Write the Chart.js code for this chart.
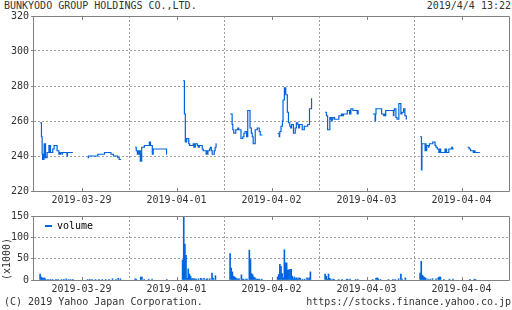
<!DOCTYPE html>
<html><head><meta charset="utf-8">
<script src="https://cdn.jsdelivr.net/npm/chart.js@4.4.0/dist/chart.umd.min.js"></script>
<style>
html,body{margin:0;padding:0;background:#fff;}
body{width:512px;height:310px;position:relative;overflow:hidden;font-family:"DejaVu Sans Mono",monospace;font-size:10px;color:#333;}
.t{position:absolute;white-space:pre;line-height:12px;}
canvas{position:absolute;left:0;}
</style></head><body>
<div class="t" style="left:4px;top:0px">BUNKYODO GROUP HOLDINGS CO.,LTD.</div>
<div class="t" style="right:1px;top:0px">2019/4/4 13:22</div>
<canvas id="c1" width="512" height="210" style="top:0px"></canvas>
<canvas id="c2" width="512" height="90" style="top:205px"></canvas>
<div class="t" style="left:4px;top:296px">(C) 2019 Yahoo Japan Corporation.</div>
<div class="t" style="right:1px;top:296px">https://stocks.finance.yahoo.co.jp</div>
<script>
// ---- categories / ticks ----
const days = ['2019-03-29','2019-04-01','2019-04-02','2019-04-03','2019-04-04'];
const priceTicks = [220,240,260,280,300,320];
const volTicks = [0,50,100,150];

// ---- price change points: minutes after 9:00 (lunch 150-210, close 360) ----
const pt0329 = [0,6,9,11,13,15,17,18,21,22,24,31,39,41,43,46,56,62,75,83,85,88,90,97,99,119,121,145, 180, 210,214,255,285,313,324,343,350,358];
const pp0329 = [259,251,241,238,241,238,241,247,239,247,239,242,246,242,246,242,244,246,243,241,242,241,242,241,242,240,242,242, null, 239,240,241,242,241,240,239,238,238];
const pt0401 = [0,5,10,14,19,21,23,25,27,29,41,63,65,66,68,76,78,79,80,139,140, 180, 212,218,222,224,225,226,227,228,237,241,257,260,262,264,266,275,279,284,297,301,314,316,318,322,329,333,337,341,350,354,358,360];
const pp0401 = [245,243,241,243,241,243,237,241,237,245,246,248,246,248,246,241,244,241,244,241,241, null, 283,264,248,250,248,250,248,250,247,246,247,245,247,245,247,246,245,246,244,243,241,243,241,243,244,245,243,241,243,245,247,247];
const pt0402 = [0,9,12,16,25,34,35,36,38,48,56,61,66,73,75,76,78,88,94,98,102,111,120,129,133,143, 180, 210,217,219,220,225,231,234,240,241,242,243,244,246,253,258,264,268,269,270,272,280,288,293,299,303,304,305,307,319,328,343,351,360];
const pp0402 = [264,258,255,253,255,256,255,256,255,250,251,253,254,251,254,251,266,256,253,251,247,255,256,254,252,252, null, 253,251,253,254,257,260,272,279,276,279,276,279,275,265,259,257,256,257,256,258,253,256,259,258,256,258,256,258,255,257,258,267,273];
const pt0403 = [0,6,11,21,25,28,29,31,35,42,61,72,74,76,78,81,98,108,110,112,114,123,142,144,146,147, 180, 211,221,223,225,250,259,261,263,266,268,300,302,304,306,313,318,326,335,340,347,353,359,360];
const pp0403 = [265,263,255,262,261,262,260,261,262,261,263,264,263,264,263,264,266,264,266,264,267,266,264,266,264,264, null, 264,260,264,267,264,263,264,263,263,266,266,263,266,267,262,261,270,264,265,267,263,261,261];
const pt0404 = [0,6,8,22,24,26,29,37,39,41,56,66,70,76,83,85,86,88,91,110,112,114,117,127,139,143,149, 180, 210,217,223,235,240,243,264];
const pp0404 = [251,232,247,243,247,243,246,245,246,247,248,246,245,244,242,244,242,244,242,244,242,244,242,244,245,244,244, null, 245,244,243,242,243,242,242];

// ---- volume (x1000) per 5-minute bar ----
const vt0329 = [0,5,10,15,20,25,35,45,55,70,80,95,105,115,125,135,145, 210,220,230,245,260,275,290,305,320,335,345,355];
const vv0329 = [14,7,5,4,5,1,1,1,1,1,1,1,1,3,1,1,1, 1,1,1,1,1,1,1,1,3,1,4,3];
const vt0401 = [0,5,25,30,40,60,75,140, 210,215,220,225,230,235,240,245,250,255,260,265,270,280,290,295,305,315,320,330,340,345,355];
const vv0401 = [3,2,7,7,1,2,2,1, 47,147,84,58,4,26,14,9,3,3,3,3,2,3,4,3,4,2,3,3,16,4,10];
const vt0402 = [0,5,10,15,20,25,30,35,40,50,55,60,70,75,85,90,95,100,105,110,115,120,125,130,140, 210,215,220,225,230,235,240,245,250,255,260,265,270,275,280,285,290,295,300,305,310,320,330,340,345,350,355];
const vv0402 = [62,28,19,9,7,5,3,3,3,12,2,2,2,2,70,48,15,12,7,5,2,2,2,2,2, 7,13,37,32,15,5,71,40,40,23,24,25,25,9,3,7,3,5,2,5,4,2,2,5,2,5,19];
const vt0403 = [0,5,10,15,20,25,35,40,60,75,95,100,110,135,145, 210,225,230,235,245,280,300,310,325,335,340,355];
const vv0403 = [14,9,2,14,4,2,2,1,1,1,2,2,2,1,1, 1,4,5,3,1,1,1,1,3,14,3,5];
const vt0404 = [0,5,10,15,20,25,35,45,55,70,80,85,90,105,130,145, 220,240,245];
const vv0404 = [16,44,11,8,6,4,2,2,3,3,5,7,7,1,2,2, 1,2,1];

// ---- layout of the time axis ----
const SLOT = 420, OPEN = 27;   // one trading day per slot, 9:00 at OPEN
const XMAX = SLOT * days.length;
const bounds = days.map((d,i)=>i*SLOT).concat([XMAX]);
const centers = days.map((d,i)=>i*SLOT + SLOT/2);

const LINE = '#0064dc', GRID = '#a0a0a0', FRAME = '#808080', TXT = '#333';
const FONT = {family:'"DejaVu Sans Mono", monospace', size:10};
Chart.defaults.font.family = FONT.family;
Chart.defaults.font.size = 10;
Chart.defaults.color = TXT;

function series(tArr, vArr, breakEach) {
  const out = [];
  tArr.forEach((ts, d) => {
    ts.forEach((t, i) => out.push({x: d*SLOT + OPEN + t, y: vArr[d][i]}));
    if (breakEach) out.push({x: d*SLOT + SLOT - 1, y: null});
  });
  return out;
}
const priceData = series([pt0329,pt0401,pt0402,pt0403,pt0404],[pp0329,pp0401,pp0402,pp0403,pp0404], true);
const volData = series([vt0329,vt0401,vt0402,vt0403,vt0404],[vv0329,vv0401,vv0402,vv0403,vv0404], false);

function xScale(h) {
  return {
    type:'linear', min:0, max:XMAX, offset:false,
    afterBuildTicks: s => { s.ticks = bounds.concat(centers).sort((a,b)=>a-b).map(v=>({value:v})); },
    ticks:{ autoSkip:false, maxRotation:0, minRotation:0, padding:3, font:FONT, color:TXT,
      callback: v => { const i = centers.indexOf(v); return i >= 0 ? days[i] : ''; } },
    grid:{ drawTicks:false, lineWidth:1, offset:false,
      color: c => (c.tick && bounds.includes(c.tick.value) && c.tick.value > 0 && c.tick.value < XMAX) ? GRID : 'transparent' },
    border:{ display:false, dash:[2,2] },
    afterFit: s => { s.height = h; }
  };
}
function yScale(min, max, tickVals, extra) {
  return Object.assign({
    type:'linear', min:min, max:max,
    afterBuildTicks: s => { s.ticks = tickVals.map(v=>({value:v})); },
    ticks:{ padding:2, font:FONT, color:TXT },
    grid:{ drawTicks:true, tickLength:3, tickColor:FRAME, lineWidth:1,
      color: c => (c.tick && c.tick.value > min && c.tick.value < max) ? GRID : 'transparent' },
    border:{ display:false, dash:[2,2] },
    afterFit: s => { s.width = 34; }
  }, extra || {});
}
const framePlugin = {
  id:'frame',
  afterDatasetsDraw(chart) {
    const {ctx, chartArea:a, scales:{x}} = chart;
    ctx.save();
    ctx.strokeStyle = FRAME; ctx.lineWidth = 1;
    ctx.beginPath();
    ctx.moveTo(a.left - 0.5, a.top + 0.5); ctx.lineTo(a.right + 0.5, a.top + 0.5);
    ctx.lineTo(a.right + 0.5, a.bottom + 0.5); ctx.lineTo(a.left - 0.5, a.bottom + 0.5);
    ctx.closePath();
    centers.forEach(v => {
      const px = Math.round(x.getPixelForValue(v)) + 0.5;
      ctx.moveTo(px, a.top); ctx.lineTo(px, a.top + 4);
      ctx.moveTo(px, a.bottom - 3); ctx.lineTo(px, a.bottom + 1);
    });
    ctx.stroke();
    ctx.restore();
  }
};
const legendNudge = { id:'legendNudge', afterLayout(chart){ const l = chart.legend; if (l) { l.left += 6; l.right += 6; l.top += 11; l.bottom += 11; } } };

new Chart(document.getElementById('c1'), {
  type:'line',
  data:{ datasets:[{ label:'price', data:priceData, stepped:'before', spanGaps:false,
    borderColor:LINE, borderWidth:1.2, pointRadius:0, fill:false }] },
  options:{
    responsive:false, animation:false, events:[],
    layout:{ padding:{ top:16, right:1, left:0, bottom:0 } },
    plugins:{ legend:{display:false}, tooltip:{enabled:false} },
    scales:{ x:xScale(19), y:yScale(220, 320, priceTicks) }
  },
  plugins:[framePlugin]
});

new Chart(document.getElementById('c2'), {
  type:'bar',
  data:{ datasets:[{ label:'volume', data:volData, backgroundColor:LINE, borderWidth:0, barThickness:1 }] },
  options:{
    responsive:false, animation:false, events:[],
    layout:{ padding:{ top:11, right:1, left:0, bottom:0 } },
    plugins:{
      legend:{ display:true, position:'chartArea', align:'start',
        labels:{ boxWidth:7, boxHeight:2, padding:5, color:'#000', font:FONT } },
      tooltip:{enabled:false}
    },
    scales:{ x:xScale(15), y:yScale(0, 150, volTicks, {
      title:{ display:true, text:'(x1000)', align:'start', color:TXT, font:FONT, padding:{top:1,bottom:0} } }) }
  },
  plugins:[framePlugin, legendNudge]
});
</script>
</body></html>
